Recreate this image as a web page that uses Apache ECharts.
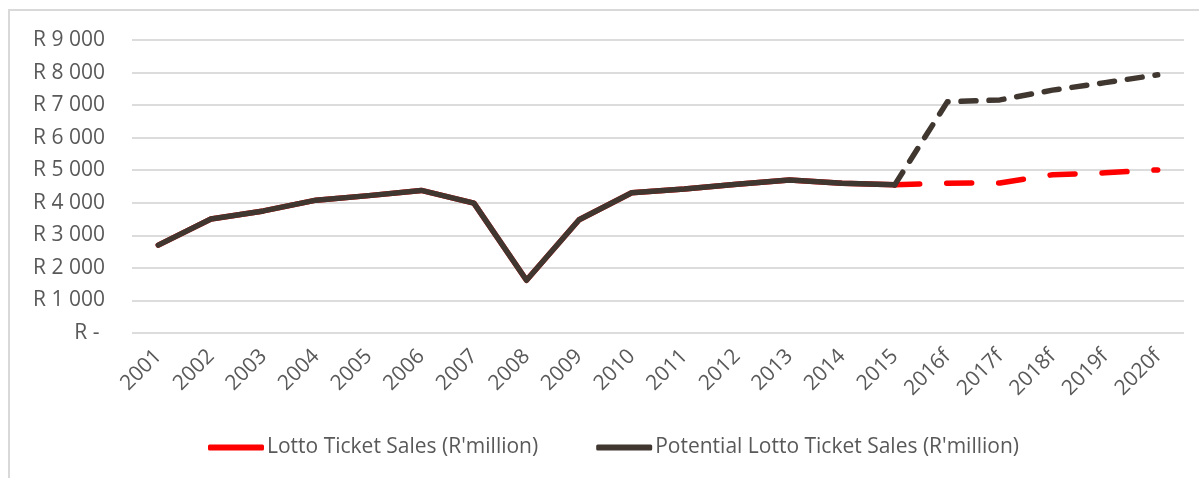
<!DOCTYPE html>
<html>
<head>
<meta charset="utf-8">
<script src="https://cdn.jsdelivr.net/npm/echarts@6/dist/echarts.min.js"></script>
<style>
  html, body { margin: 0; padding: 0; background: #ffffff; }
  #chart { width: 1199px; height: 478px; }
</style>
</head>
<body>
<div id="chart"></div>
<script>
// Lotto ticket sales, R'million: actuals 2001–2015 and forecasts 2016f–2020f
const years = ['2001', '2002', '2003', '2004', '2005', '2006', '2007', '2008', '2009', '2010',
  '2011', '2012', '2013', '2014', '2015', '2016f', '2017f', '2018f', '2019f', '2020f'];
const salesHistory = [2700, 3500, 3750, 4080, 4220, 4380, 3990, 1620, 3480, 4310,
  4420, 4570, 4700, 4600, 4550];
const lottoForecast = [4600, 4610, 4860, 4920, 5010];
const potentialForecast = [7100, 7160, 7460, 7690, 7930];
const yTicks = { min: 0, max: 9000, step: 1000 };

const lottoName = "Lotto Ticket Sales (R'million)";
const potentialName = "Potential Lotto Ticket Sales (R'million)";
const RED = '#ff0000';
const DARK = '#403730';
const TEXT = '#595959';
const FONT = 'Open Sans';
const FONT_SIZE = 21;

const nHist = salesHistory.length;
const nFc = years.length - nHist;
const histData = salesHistory.concat(new Array(nFc).fill(null));
// forecast segments start from the last actual year so the lines join
const fcData = fc => new Array(nHist - 1).fill(null)
  .concat([salesHistory[nHist - 1]], fc);

function randFmt(v) {
  if (v === 0) return 'R - ';
  return 'R ' + String(v).replace(/\B(?=(\d{3})+(?!\d))/g, ' ');
}

function lineSeries(name, data, color, dash, z) {
  return {
    name: name,
    type: 'line',
    data: data,
    showSymbol: false,
    symbol: 'none',
    connectNulls: false,
    z: z,
    itemStyle: { color: color },
    lineStyle: { color: color, width: 5.5, type: dash, cap: 'round', join: 'round' },
    emphasis: { disabled: true }
  };
}

const chart = echarts.init(document.getElementById('chart'), null, { renderer: 'canvas' });
chart.setOption({
  animation: false,
  backgroundColor: '#ffffff',
  textStyle: { fontFamily: FONT, color: TEXT },
  graphic: [{
    type: 'rect',
    shape: { x: 9, y: 10, width: 1220, height: 500 },
    style: { fill: 'none', stroke: '#d9d9d9', lineWidth: 2 },
    silent: true
  }],
  grid: { left: 132, right: 15, top: 40, bottom: 145, containLabel: false },
  legend: {
    left: 203,
    top: 432,
    itemWidth: 56,
    itemHeight: 6,
    itemGap: 58,
    textStyle: { fontFamily: FONT, fontSize: FONT_SIZE, color: TEXT, padding: [0, 0, 0, -2] },
    data: [
      { name: lottoName, icon: 'roundRect', itemStyle: { color: RED, borderWidth: 0 } },
      { name: potentialName, icon: 'roundRect', itemStyle: { color: DARK, borderWidth: 0 } }
    ],
    selectedMode: false
  },
  xAxis: {
    type: 'category',
    data: years,
    boundaryGap: true,
    axisLine: { show: false },
    axisTick: { show: false },
    axisLabel: {
      interval: 0,
      rotate: 45,
      margin: 20,
      fontFamily: FONT,
      fontSize: FONT_SIZE,
      color: TEXT
    }
  },
  yAxis: {
    type: 'value',
    min: yTicks.min,
    max: yTicks.max,
    interval: yTicks.step,
    axisLine: { show: false },
    axisTick: { show: false },
    axisLabel: {
      margin: 27,
      fontFamily: FONT,
      fontSize: FONT_SIZE,
      color: TEXT,
      formatter: randFmt
    },
    splitLine: { show: true, lineStyle: { color: '#dcdcdc', width: 2 } }
  },
  series: [
    lineSeries(lottoName, histData, RED, 'solid', 2),
    lineSeries(lottoName, fcData(lottoForecast), RED, [25, 27], 2),
    lineSeries(potentialName, histData, DARK, 'solid', 3),
    lineSeries(potentialName, fcData(potentialForecast), DARK, [15, 13], 3)
  ]
});
</script>
</body>
</html>
